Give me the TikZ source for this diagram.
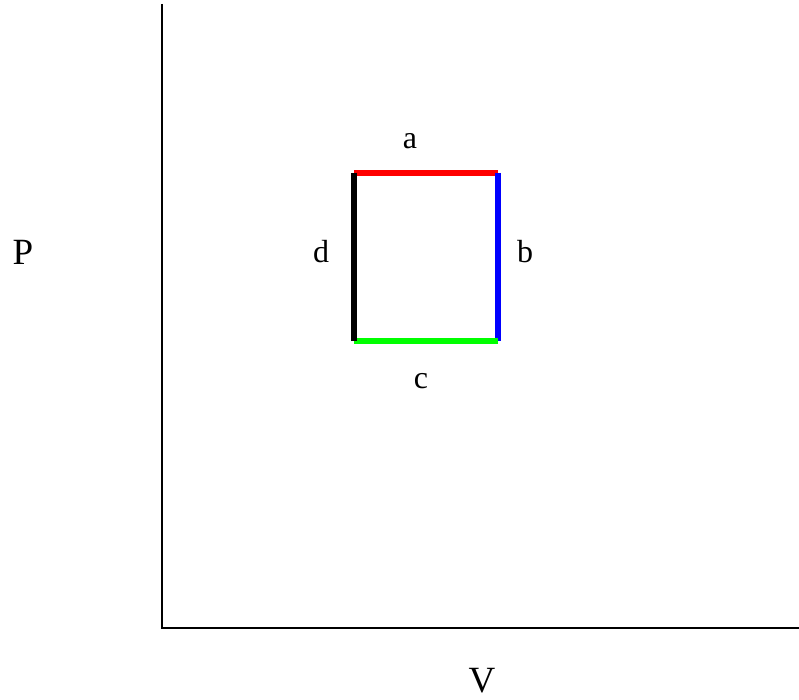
\documentclass[tikz,border=0pt]{standalone}
\usepackage{fontspec}
\setmainfont{Liberation Serif}
\begin{document}
\begin{tikzpicture}[x=1pt,y=-1pt,
  axis/.style={line width=2pt},
  side/.style={line width=5.5pt},
  small/.style={font=\fontsize{32}{36}\selectfont, anchor=base, inner sep=0pt},
  big/.style={font=\fontsize{37}{40}\selectfont, anchor=base, inner sep=0pt}]
\useasboundingbox (0,0) rectangle (799,700);
% axes
\coordinate (top) at (162,4);
\coordinate (origin) at (162,628);
\coordinate (right) at (799,628);
\draw[axis] (top) -- (origin) -- (right);
% cycle corners
\coordinate (A) at (354,173);
\coordinate (B) at (498,173);
\coordinate (C) at (498,341);
\coordinate (D) at (354,341);
\draw[side, red] (A) -- (B);
\draw[side, blue] (B) -- (C);
\draw[side, green] (C) -- (D);
\draw[side, black] (D) -- (A);
% labels
\node[small] (la) at (410,149) {a};
\node[small] (lb) at (525,262) {b};
\node[small] (lc) at (421,388) {c};
\node[small] (ld) at (321,262) {d};
\node[big] (lP) at (23,265) {P};
\node[big] (lV) at (482,692) {V};
\end{tikzpicture}
\end{document}
